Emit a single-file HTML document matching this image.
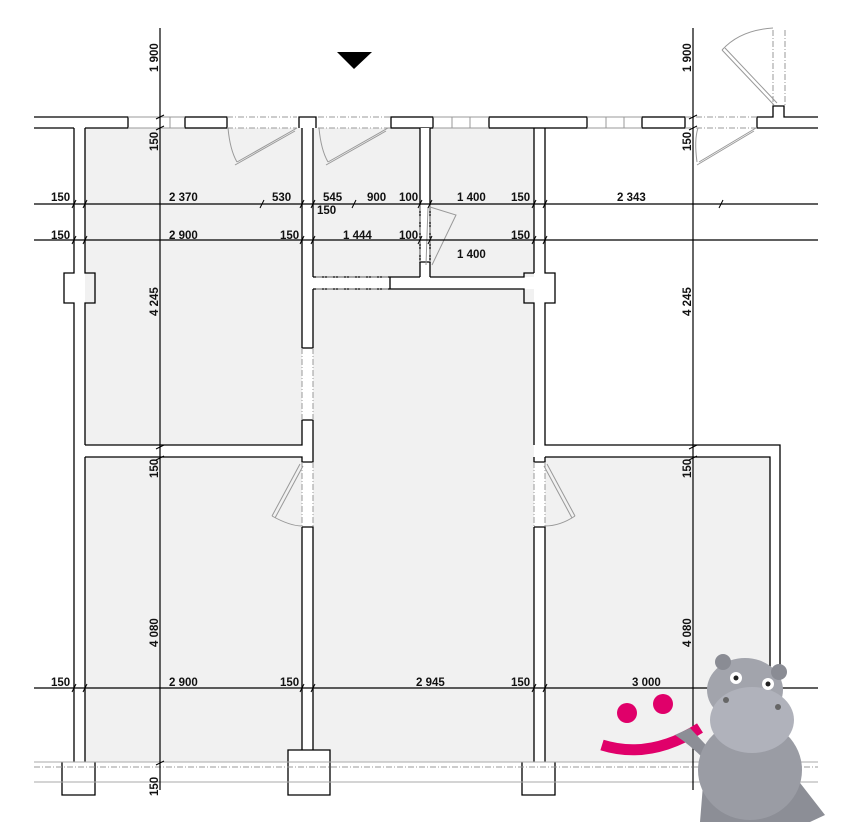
<!DOCTYPE html>
<html><head><meta charset="utf-8"><style>
html,body{margin:0;padding:0;background:#fff;}
svg{display:block;}
text{font-family:"Liberation Sans",sans-serif;font-weight:bold;font-size:11.5px;fill:#111;}
</style></head><body>
<svg width="844" height="822" viewBox="0 0 844 822" xmlns="http://www.w3.org/2000/svg">
<!-- room fills -->
<g fill="#f1f1f1">
<rect x="85" y="128" width="217" height="317"/>
<rect x="313" y="128" width="107" height="149"/>
<rect x="430" y="128" width="104" height="149"/>
<rect x="313" y="289" width="221" height="473"/>
<rect x="85" y="457" width="217" height="305"/>
<rect x="545" y="457" width="225" height="305"/>
</g>
<!-- walls outlines -->
<g fill="#fff" stroke="#000" stroke-width="1.3">
<!-- top wall segments -->
<rect x="30" y="117" width="98" height="11" stroke="none"/>
<path d="M34 117 H128 V128 H85 M74 128 H34" fill="none"/>
<rect x="185" y="117" width="42" height="11"/>
<path d="M299 128 V117 H316 V128" fill="#fff"/>
<rect x="391" y="117" width="42" height="11"/>
<rect x="489" y="117" width="98" height="11"/>
<rect x="642" y="117" width="43" height="11"/>
<path d="M818 117 H784 V106 H773 V117 H757 V128 H818" fill="#fff"/>
<!-- left outer wall -->
<path d="M74 128 V273 H64 V303 H74 V762 M85 128 V273 H95 V303 H85 V445 M85 457 V762" fill="none"/>
<!-- wall x302 -->
<path d="M302 128 V348 M313 128 V277 M302 420 V445 H85 M85 457 H302 V462 H313 V420 M313 289 V348 M302 527 H313 V750 M302 527 V750" fill="none"/>
<line x1="302" y1="348" x2="313" y2="348"/><line x1="302" y1="420" x2="313" y2="420"/>
<!-- wall x420 -->
<path d="M420 128 V262 H430 V128" fill="#fff"/>
<path d="M420 262 V277 M430 262 V277" fill="none"/>
<!-- horizontal y277 -->
<path d="M313 277 H420 M430 277 H524 V273 H534 M313 289 H390 V277 M390 289 H524 V303 H534 V445" fill="none"/>
<!-- wall x534 -->
<path d="M534 128 V273 M545 128 V273 H555 V303 H545 V445 H780 V762 M545 457 H770 V762 M534 457 V462 H545 V457 M534 527 H545 V762 M534 527 V762" fill="none"/>
<!-- bottom posts -->
<path d="M62 762 V795 H95 V762" fill="#fff"/>
<path d="M288 750 H330 V795 H288 Z" fill="#fff"/>
<path d="M522 762 V795 H555 V762" fill="#fff"/>
<path d="M775 762 V795" fill="none"/>
</g>
<!-- window/door openings grey -->
<g stroke="#999" stroke-width="1" fill="none">
<path d="M128 117 H185 M128 128 H185 M170 117 V128"/>
<path d="M433 117 H489 M433 128 H489 M452 117 V128 M470 117 V128"/>
<path d="M587 117 H642 M587 128 H642 M606 117 V128 M624 117 V128"/>
<path d="M227 117 H297 M227 128 H297 M318 117 H390 M318 128 H390 M685 117 H757 M685 128 H757" stroke-dasharray="6 2 1 2"/>
<path d="M316 289 H390 M316 277 H390 M302 348 V420 M313 348 V420 M302 462 V527 M313 462 V527 M534 462 V527 M545 462 V527 M420 205 V262 M430 205 V262 M785 30 V105 M773 30 V105" stroke-dasharray="6 2 1 2"/>
<path d="M297 128 L237 162 M295 131 L235 165"/>
<path d="M228 128 Q230 150 237 162"/>
<path d="M388 128 L328 162 M386 131 L326 165 M319 128 Q321 150 328 162"/>
<path d="M756 128 L699 162 M754 131 L697 165 M697 162 Q694 140 698 128"/>
<path d="M774 105 L722 50 M777 103 L725 48 M722 50 Q740 30 773 28"/>
<path d="M300 464 L272 516 M303 466 L275 518 M272 516 Q290 526 302 526"/>
<path d="M547 464 L575 516 M544 466 L572 518 M575 516 Q560 526 545 526"/>
<path d="M430 207 L456 215 L432 265 M428 207 L426 265"/>
<path d="M34 762 H818 M34 782 H818" stroke="#aaa"/>
<path d="M34 767 H818" stroke-dasharray="6 2 1 2"/>
</g>
<!-- dimension lines -->
<g stroke="#000" stroke-width="1.2">
<line x1="34" y1="204" x2="818" y2="204"/>
<line x1="34" y1="240" x2="818" y2="240"/>
<line x1="34" y1="688" x2="818" y2="688"/>
<line x1="160" y1="28" x2="160" y2="790"/>
<line x1="693" y1="28" x2="693" y2="790"/>
</g>
<g stroke="#000" stroke-width="1">
<path d="M72 208 L76 200 M83 208 L87 200 M260 208 L264 200 M300 208 L304 200 M311 208 L315 200 M352 208 L356 200 M418 208 L422 200 M428 208 L432 200 M532 208 L536 200 M543 208 L547 200 M719 208 L723 200"/>
<path d="M72 244 L76 236 M83 244 L87 236 M300 244 L304 236 M311 244 L315 236 M418 244 L422 236 M428 244 L432 236 M532 244 L536 236 M543 244 L547 236"/>
<path d="M72 692 L76 684 M83 692 L87 684 M300 692 L304 684 M311 692 L315 684 M532 692 L536 684 M543 692 L547 684"/>
<path d="M156 119 L164 115 M156 130 L164 126 M689 119 L697 115 M689 130 L697 126 M689 449 L697 445 M689 460 L697 456 M156 449 L164 445 M156 460 L164 456 M156 765 L164 761"/>
</g>
<!-- labels -->
<g>
<text x="51" y="201">150</text><text x="169" y="201">2 370</text><text x="272" y="201">530</text>
<text x="323" y="201">545</text><text x="367" y="201">900</text><text x="399" y="201">100</text>
<text x="457" y="201">1 400</text><text x="511" y="201">150</text><text x="617" y="201">2 343</text>
<text x="317" y="214">150</text>
<text x="51" y="239">150</text><text x="169" y="239">2 900</text><text x="280" y="239">150</text>
<text x="343" y="239">1 444</text><text x="399" y="239">100</text><text x="511" y="239">150</text>
<text x="457" y="258">1 400</text>
<text x="51" y="686">150</text><text x="169" y="686">2 900</text><text x="280" y="686">150</text>
<text x="416" y="686">2 945</text><text x="511" y="686">150</text><text x="632" y="686">3 000</text>
<text transform="translate(158,72) rotate(-90)">1 900</text>
<text transform="translate(691,72) rotate(-90)">1 900</text>
<text transform="translate(158,151) rotate(-90)">150</text>
<text transform="translate(691,151) rotate(-90)">150</text>
<text transform="translate(158,316) rotate(-90)">4 245</text>
<text transform="translate(691,316) rotate(-90)">4 245</text>
<text transform="translate(158,478) rotate(-90)">150</text>
<text transform="translate(691,478) rotate(-90)">150</text>
<text transform="translate(158,647) rotate(-90)">4 080</text>
<text transform="translate(691,647) rotate(-90)">4 080</text>
<text transform="translate(158,796) rotate(-90)">150</text>
</g>
<polygon points="337,52 372,52 354,69" fill="#000"/>
<!-- smiley -->
<circle cx="627" cy="713" r="10" fill="#e0006a"/>
<circle cx="663" cy="704" r="10" fill="#e0006a"/>
<path d="M602 745 Q650 760 700 728" stroke="#e0006a" stroke-width="11" fill="none"/>
<!-- hippo -->
<g>
<path d="M700 822 L705 760 Q690 745 675 735 L690 728 L720 760 L790 770 L825 815 L810 822 Z" fill="#8c8e96"/>
<ellipse cx="750" cy="770" rx="52" ry="50" fill="#9a9ca4"/>
<ellipse cx="745" cy="690" rx="38" ry="32" fill="#a2a4ac"/>
<circle cx="723" cy="662" r="8" fill="#8a8c94"/>
<circle cx="779" cy="672" r="8" fill="#8a8c94"/>
<ellipse cx="752" cy="720" rx="42" ry="33" fill="#b0b2bb"/>
<circle cx="736" cy="678" r="6" fill="#fff"/><circle cx="736" cy="678" r="2.5" fill="#222"/>
<circle cx="768" cy="684" r="6" fill="#fff"/><circle cx="768" cy="684" r="2.5" fill="#222"/>
<circle cx="726" cy="700" r="3" fill="#666"/><circle cx="778" cy="707" r="3" fill="#666"/>
</g>
</svg>
</body></html>
